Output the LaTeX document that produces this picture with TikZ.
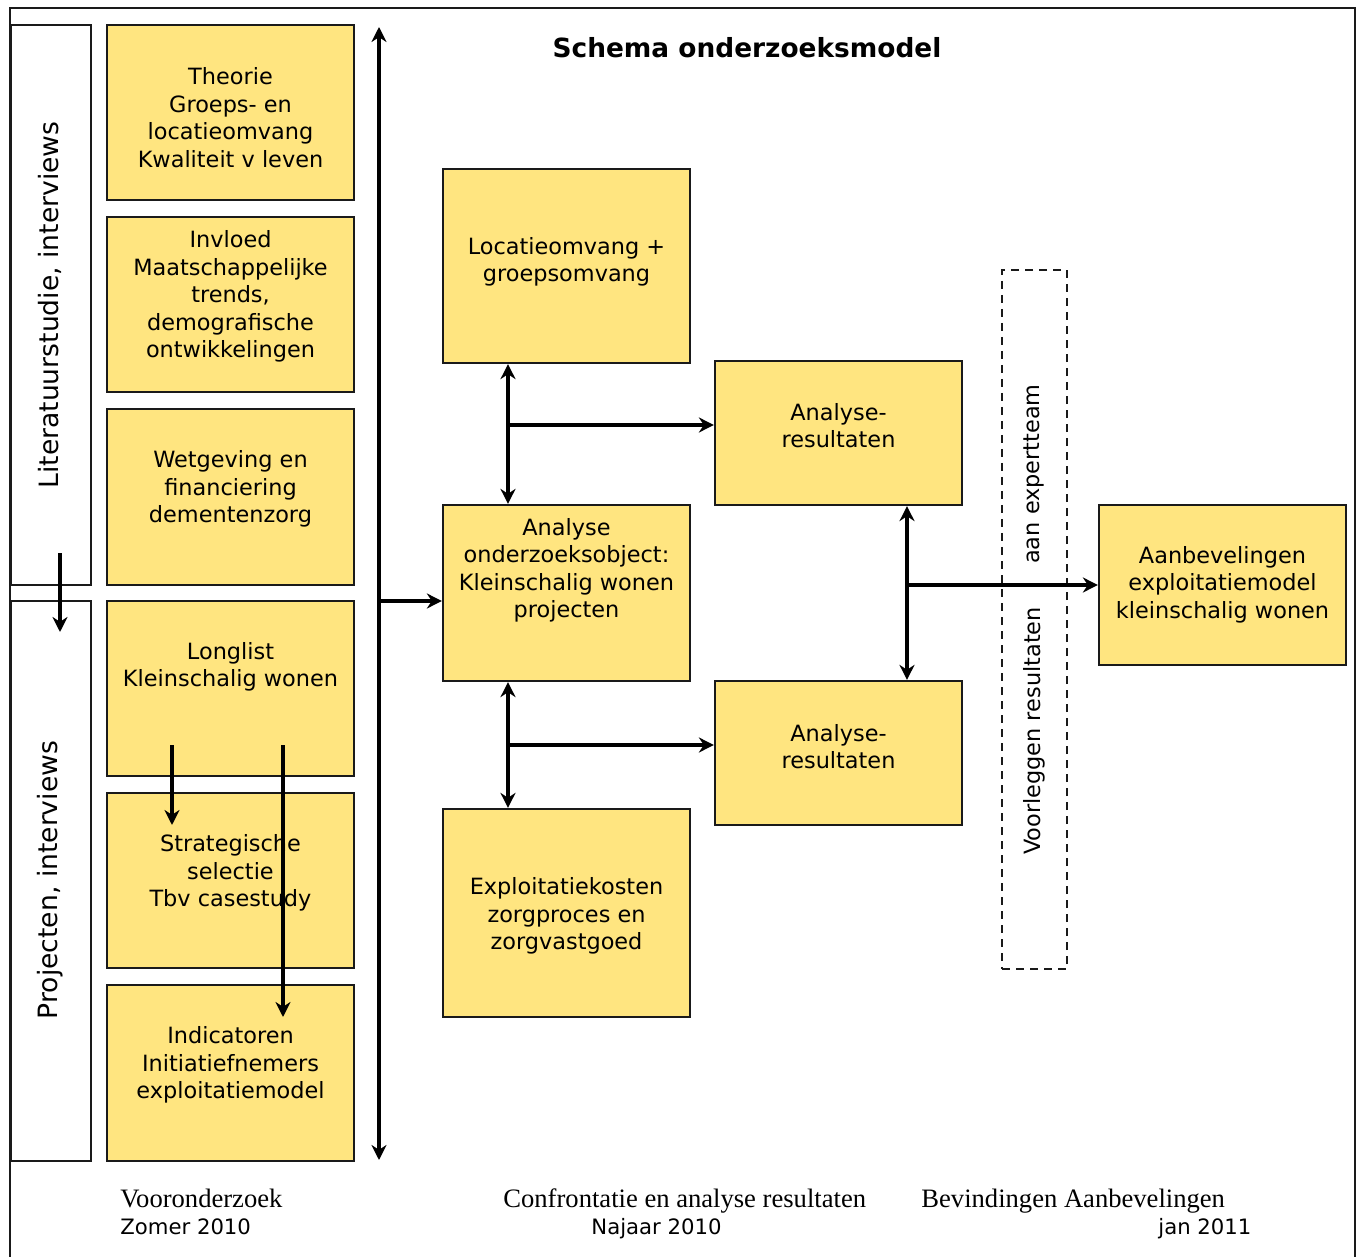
\documentclass[tikz,border=0pt]{standalone}
\usepackage{fontspec}
\setmainfont{DejaVu Sans}
\newfontfamily\timesfont{Liberation Serif}
\usetikzlibrary{arrows.meta, positioning, fit}
\definecolor{geel}{HTML}{FFE580}
\definecolor{kader}{HTML}{1A1A1A}
\tikzset{
  blok/.style={rectangle, draw=kader, line width=1.1pt, fill=geel, inner sep=0pt},
  witblok/.style={blok, fill=white},
  stippelblok/.style={rectangle, draw=kader, line width=0.9pt, dash pattern=on 4pt off 3pt, inner sep=0pt},
  tekst/.style={align=center, font=\fontsize{11.2}{13.75}\selectfont, inner sep=0pt},
  zijtekst/.style={font=\fontsize{13.3}{16}\selectfont, rotate=90, inner sep=0pt},
  voettekst/.style={font=\timesfont\fontsize{13.3}{16}\selectfont, anchor=base west, inner sep=0pt},
  datum/.style={font=\fontsize{10.6}{13}\selectfont, anchor=base west, inner sep=0pt},
  pijl/.style={-{Stealth[length=7.5pt, width=7.5pt]}, line width=1.7pt},
  dubbelpijl/.style={{Stealth[length=7.5pt, width=7.5pt]}-{Stealth[length=7.5pt, width=7.5pt]}, line width=1.7pt},
}
\begin{document}
\begin{tikzpicture}[x=0.5pt, y=-0.5pt]
  \useasboundingbox (0,0) rectangle (1361,1257);
  \draw[kader, line width=1pt] (10,1262) -- (10,8) -- (1355,8) -- (1355,1262);

  \node[font=\fontsize{13.2}{16}\selectfont\bfseries, inner sep=0pt] (titel) at (747,48) {Schema onderzoeksmodel};

  % linker kolom
  \node[witblok, fit={(11,25)(91,585)}] (literatuur) {};
  \node[witblok, fit={(11,601)(91,1161)}] (projecten) {};
  \node[zijtekst] (literatuur-t) at (50,305) {Literatuurstudie, interviews};
  \node[zijtekst] (projecten-t) at (50,880) {Projecten, interviews};

  \node[blok, fit={(107,25)(354,200)}] (theorie) {};
  \node[blok, fit={(107,217)(354,392)}] (invloed) {};
  \node[blok, fit={(107,409)(354,585)}] (wetgeving) {};
  \node[blok, fit={(107,601)(354,776)}] (longlist) {};
  \node[blok, fit={(107,793)(354,968)}] (selectie) {};
  \node[blok, fit={(107,985)(354,1161)}] (indicatoren) {};

  \node[tekst] (theorie-t) at (230.5,117.5) {Theorie\\Groeps- en\\locatieomvang\\Kwaliteit v leven};
  \node[tekst] (invloed-t) at (230.5,296.5) {Invloed\\Maatschappelijke\\trends,\\demografische\\ontwikkelingen};
  \node[tekst] (wetgeving-t) at (230.5,489) {Wetgeving en\\financiering\\dementenzorg};
  \node[tekst] (longlist-t) at (230.5,667) {Longlist\\Kleinschalig wonen};
  \node[tekst] (selectie-t) at (230.5,873) {Strategische\\selectie\\Tbv casestudy};
  \node[tekst] (indicatoren-t) at (230.5,1065) {Indicatoren\\Initiatiefnemers\\exploitatiemodel};

  % midden
  \node[blok, fit={(443,169)(690,363)}] (locatie) {};
  \node[blok, fit={(443,505)(690,681)}] (analyse) {};
  \node[blok, fit={(443,809)(690,1017)}] (exploitatie) {};
  \node[blok, fit={(715,361)(962,505)}] (resultaat1) {};
  \node[blok, fit={(715,681)(962,825)}] (resultaat2) {};
  \node[blok, fit={(1099,505)(1346,665)}] (aanbevelingen) {};
  \node[stippelblok, fit={(1002,270)(1067,969)}] (expertteam) {};

  \node[tekst] (locatie-t) at (566.5,262) {Locatieomvang +\\groepsomvang};
  \node[tekst] (analyse-t) at (566.5,570.5) {Analyse\\onderzoeksobject:\\Kleinschalig wonen\\projecten};
  \node[tekst] (exploitatie-t) at (566.5,916) {Exploitatiekosten\\zorgproces en\\zorgvastgoed};
  \node[tekst] (resultaat1-t) at (838.5,425.5) {Analyse-\\resultaten};
  \node[tekst] (resultaat2-t) at (838.5,746.5) {Analyse-\\resultaten};
  \node[tekst] (aanbevelingen-t) at (1222.5,584.5) {Aanbevelingen\\exploitatiemodel\\kleinschalig wonen};
  \node[tekst, rotate=90] (expert-t) at (1034,474) {aan expertteam};
  \node[tekst, rotate=90] (voorleggen-t) at (1034,731) {Voorleggen resultaten};

  % pijlen
  \coordinate (hoofdas-top) at (379,27);
  \coordinate (hoofdas-bodem) at (379,1160);
  \coordinate (tak) at (379,601);
  \coordinate (knoop1) at (508,425);
  \coordinate (knoop2) at (508,745);
  \coordinate (knoop3) at (907,585);
  \coordinate (fase-top) at (60,553);
  \coordinate (fase-bodem) at (60,632);
  \coordinate (lijst1-top) at (172,745);
  \coordinate (lijst1-bodem) at (172,825);
  \coordinate (lijst2-top) at (283,745);
  \coordinate (lijst2-bodem) at (283,1017);

  \draw[dubbelpijl] (hoofdas-top) -- (hoofdas-bodem);
  \draw[pijl] (tak) -- (tak -| analyse.west);
  \draw[dubbelpijl] (locatie.south -| knoop1) -- (analyse.north -| knoop1);
  \draw[pijl] (knoop1) -- (knoop1 -| resultaat1.west);
  \draw[dubbelpijl] (analyse.south -| knoop2) -- (exploitatie.north -| knoop2);
  \draw[pijl] (knoop2) -- (knoop2 -| resultaat2.west);
  \draw[dubbelpijl] (resultaat1.south -| knoop3) -- (resultaat2.north -| knoop3);
  \draw[pijl] (knoop3) -- (knoop3 -| aanbevelingen.west);
  \draw[pijl] (fase-top) -- (fase-bodem);
  \draw[pijl] (lijst1-top) -- (lijst1-bodem);
  \draw[pijl] (lijst2-top) -- (lijst2-bodem);

  % fasen onderaan
  \node[voettekst] (fase1) at (120,1207) {Vooronderzoek};
  \node[datum] (fase1-d) at (120,1234) {Zomer 2010};
  \node[voettekst] (fase2) at (503,1207) {Confrontatie en analyse resultaten};
  \node[datum] (fase2-d) at (591,1234) {Najaar 2010};
  \node[voettekst] (fase3) at (921,1207) {Bevindingen Aanbevelingen};
  \node[datum] (fase3-d) at (1158,1234) {jan 2011};
\end{tikzpicture}
\end{document}
